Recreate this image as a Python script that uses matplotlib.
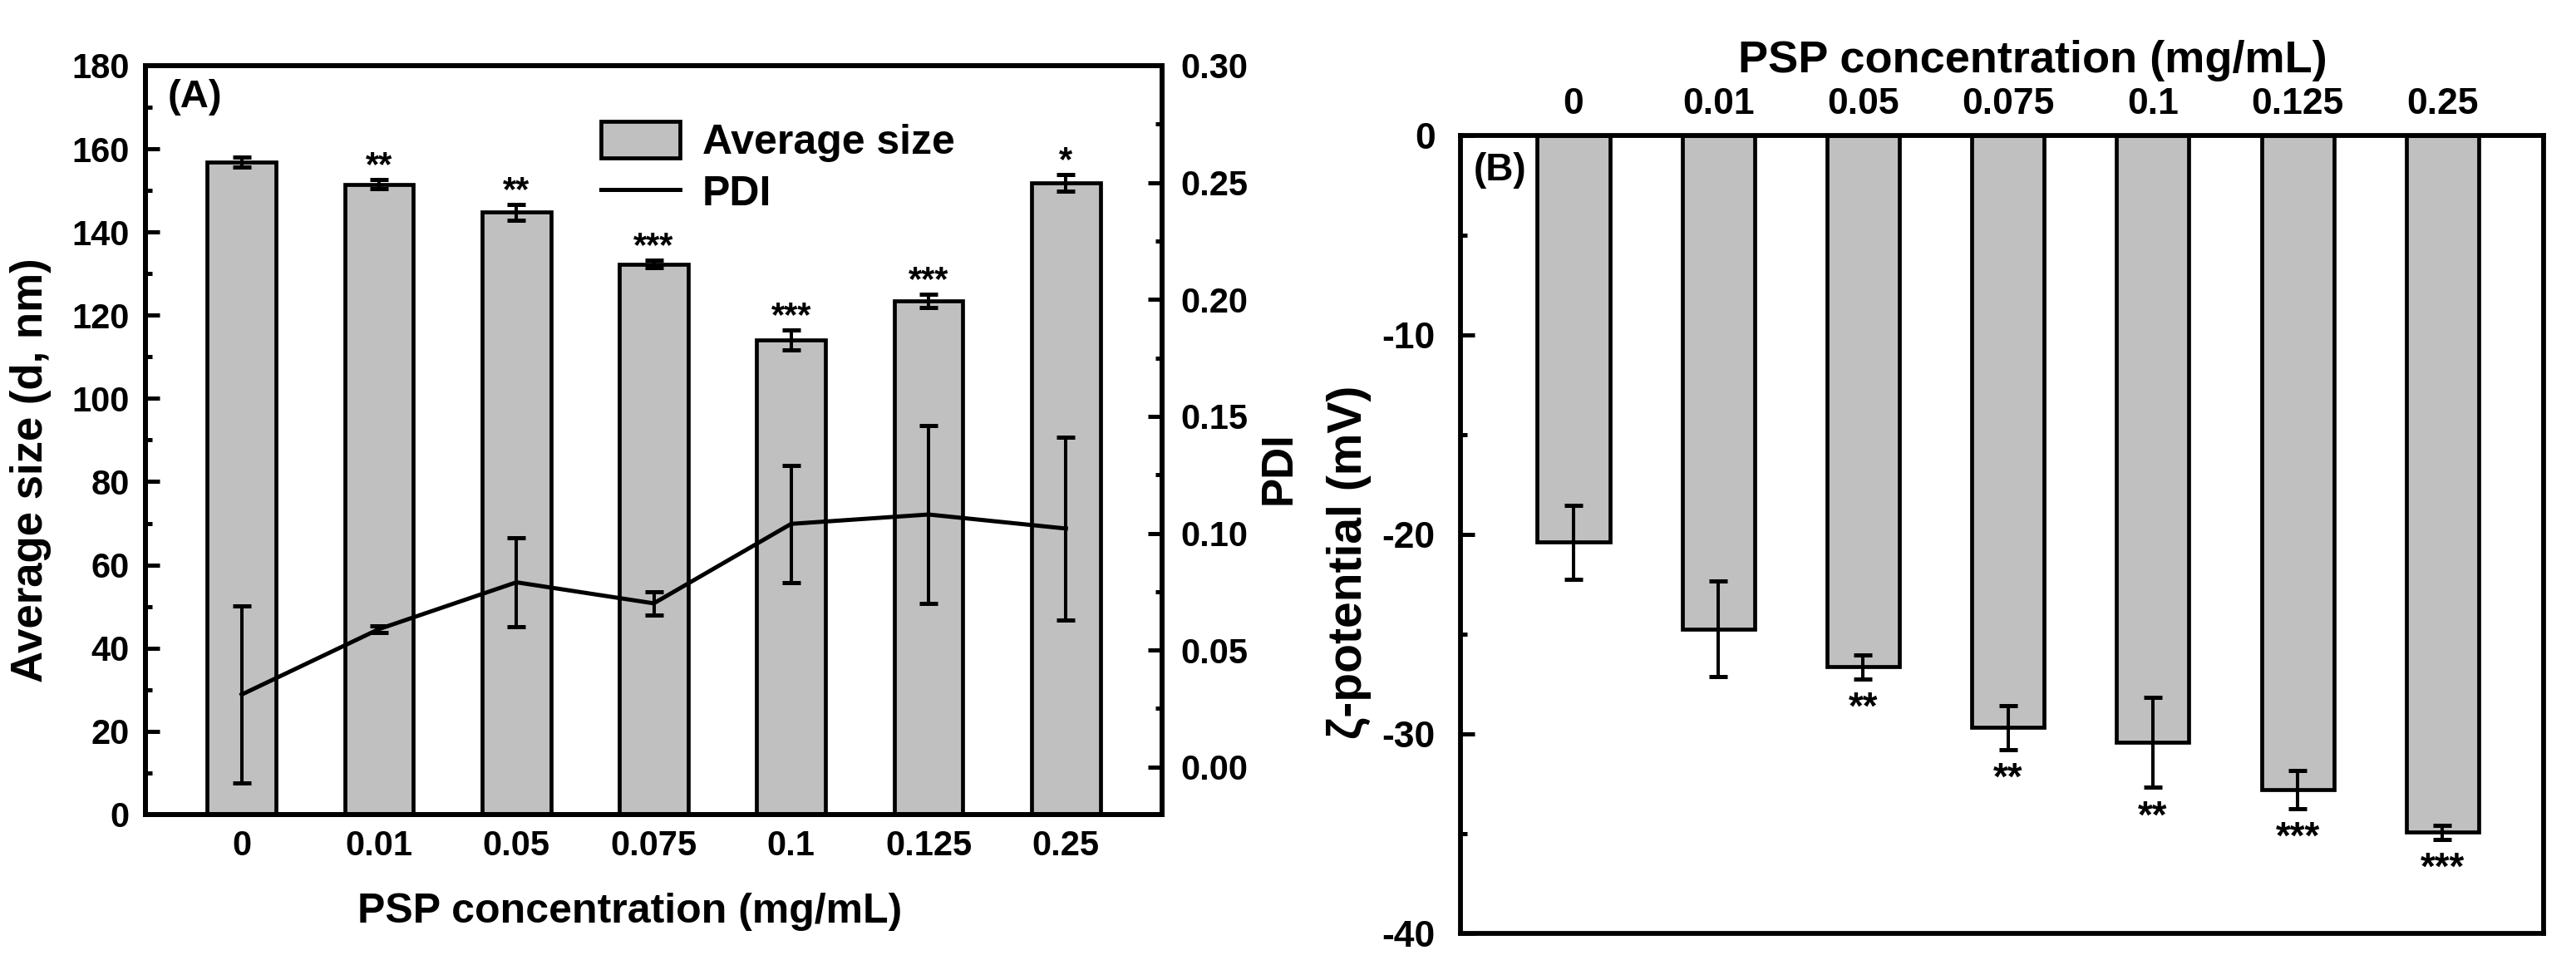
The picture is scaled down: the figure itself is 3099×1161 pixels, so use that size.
import numpy as np
import matplotlib
matplotlib.use("Agg")
import matplotlib.pyplot as plt
from matplotlib.patches import Patch
from matplotlib.lines import Line2D
from matplotlib.ticker import MultipleLocator, FormatStrFormatter

plt.rcParams["font.family"] = ["Liberation Sans", "DejaVu Sans"]
plt.rcParams["font.weight"] = "bold"
plt.rcParams["axes.labelweight"] = "bold"
plt.rcParams["axes.unicode_minus"] = False

# data
conc_labels = ["0", "0.01", "0.05", "0.075", "0.1", "0.125", "0.25"]
size_mean = [156.8, 151.5, 144.8, 132.3, 114.0, 123.4, 151.8]
size_err = [1.2, 1.1, 1.9, 0.9, 2.4, 1.6, 2.0]
size_marks = ["", "**", "**", "***", "***", "***", "*"]
pdi_mean = [0.031, 0.059, 0.079, 0.070, 0.104, 0.108, 0.102]
pdi_err = [0.038, 0.0015, 0.019, 0.005, 0.025, 0.038, 0.039]
zeta_mean = [-20.4, -24.75, -26.65, -29.7, -30.45, -32.8, -34.95]
zeta_err = [1.85, 2.4, 0.6, 1.1, 2.25, 0.95, 0.35]
zeta_marks = ["", "", "**", "**", "**", "***", "***"]

BAR_C = "#c0c0c0"
x = np.arange(len(conc_labels))

fig = plt.figure(figsize=(30.99, 11.61), dpi=100)

def style_y(a, labelsize, pad):
    a.tick_params(axis="y", which="major", direction="in", length=12, width=3.6,
                  labelsize=labelsize, pad=pad)
    a.tick_params(axis="y", which="minor", direction="in", length=6, width=3.6)
    for sp in a.spines.values():
        sp.set_linewidth(4.2)

# ---- panel A ----
ax = fig.add_axes([0.0565, 0.156, 0.3946, 0.776])
ax.bar(x, size_mean, width=0.5, color=BAR_C, edgecolor="black", linewidth=3.4, zorder=2)
ax.errorbar(x, size_mean, yerr=size_err, fmt="none", ecolor="black",
            elinewidth=2.9, capsize=8, capthick=3.6, zorder=3)
for xi, m, e, s in zip(x, size_mean, size_err, size_marks):
    if s:
        ax.annotate(s, (xi, m + e), xytext=(0, -3), textcoords="offset points",
                    ha="center", va="bottom", fontsize=30)
ax.set_xlim(-0.7, 6.7)
ax.set_ylim(0, 180)
ax.set_xticks(x)
ax.set_xticklabels(conc_labels)
ax.yaxis.set_major_locator(MultipleLocator(20))
ax.yaxis.set_minor_locator(MultipleLocator(10))
style_y(ax, 30, 14)
ax.tick_params(axis="x", length=0, labelsize=30, pad=13)
ax.set_xlabel("PSP concentration (mg/mL)", fontsize=36, va="center")
ax.xaxis.set_label_coords(0.476, -0.13)
ax.set_ylabel("Average size (d, nm)", fontsize=38, va="center")
ax.yaxis.set_label_coords(-0.113, 0.46)
ax.text(0.022, 0.958, "(A)", transform=ax.transAxes, fontsize=34, va="center", ha="left")

ax2 = ax.twinx()
ax2.errorbar(x, pdi_mean, yerr=pdi_err, color="black", linewidth=3.6,
             elinewidth=2.9, capsize=8, capthick=3.6, zorder=4)
ax2.set_ylim(-0.0203, 0.30)
ax2.yaxis.set_major_locator(MultipleLocator(0.05))
ax2.yaxis.set_minor_locator(MultipleLocator(0.025))
ax2.yaxis.set_major_formatter(FormatStrFormatter("%.2f"))
style_y(ax2, 30, 16)
ax2.set_ylabel("PDI", fontsize=38, va="center")
ax2.yaxis.set_label_coords(1.115, 0.463)

handles = [Patch(facecolor=BAR_C, edgecolor="black", linewidth=3.4),
           Line2D([], [], color="black", linewidth=3.6)]
ax.legend(handles, ["Average size", "PDI"], loc="upper left", bbox_to_anchor=(0.411, 0.975),
          frameon=False, fontsize=36, handlelength=1.9, handleheight=0.95, labelspacing=0.26,
          handletextpad=0.54)

# ---- panel B ----
bx = fig.add_axes([0.567, 0.033, 0.4205, 0.827])
bx.bar(x, zeta_mean, width=0.5, color=BAR_C, edgecolor="black", linewidth=3.4, zorder=2)
bx.errorbar(x, zeta_mean, yerr=zeta_err, fmt="none", ecolor="black",
            elinewidth=2.9, capsize=8, capthick=3.6, zorder=3)
for xi, m, e, s in zip(x, zeta_mean, zeta_err, zeta_marks):
    if s:
        bx.annotate(s, (xi, m - e), xytext=(0, -10), textcoords="offset points",
                    ha="center", va="top", fontsize=33)
bx.set_xlim(-0.78, 6.7)
bx.set_ylim(-40, 0)
bx.set_xticks(x)
bx.set_xticklabels(conc_labels)
bx.xaxis.tick_top()
bx.xaxis.set_label_position("top")
bx.yaxis.set_major_locator(MultipleLocator(10))
bx.yaxis.set_minor_locator(MultipleLocator(5))
style_y(bx, 32, 22)
bx.tick_params(axis="x", length=0, labelsize=32, pad=12)
bx.set_xlabel("PSP concentration (mg/mL)", fontsize=39, va="center")
bx.xaxis.set_label_coords(0.528, 1.093)
bx.set_ylabel("ζ-potential (mV)", fontsize=41, va="center")
bx.yaxis.set_label_coords(-0.103, 0.465)
bx.text(0.012, 0.956, "(B)", transform=bx.transAxes, fontsize=33, va="center", ha="left")

fig.savefig("out.png", dpi=100)
